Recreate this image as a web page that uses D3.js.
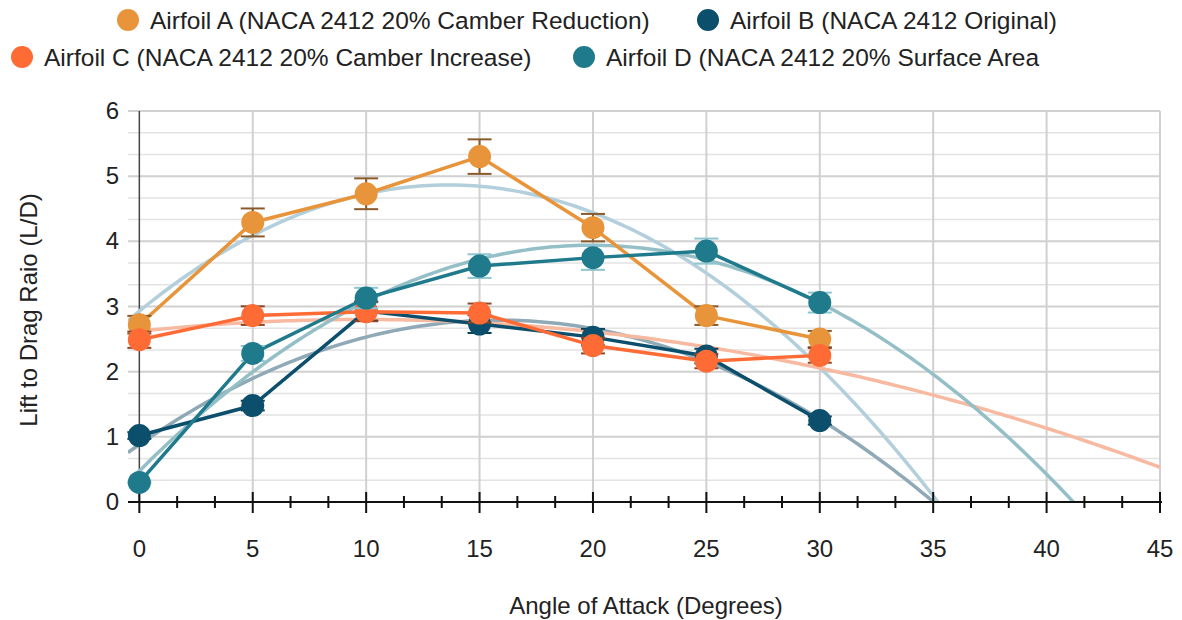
<!DOCTYPE html>
<html>
<head>
<meta charset="utf-8">
<script src="https://cdn.jsdelivr.net/npm/d3@7"></script>
<style>
  body { margin: 0; background: #fff; }
  text { font-family: "Liberation Sans", Arial, sans-serif; fill: #222; }
</style>
</head>
<body>
<svg id="chart" width="1182" height="620"></svg>
<script>
// data
const angles = [0, 5, 10, 15, 20, 25, 30];
const airfoilA = [2.72, 4.29, 4.73, 5.30, 4.21, 2.86, 2.50];
const airfoilB = [1.02, 1.48, 2.93, 2.73, 2.53, 2.24, 1.25];
const airfoilC = [2.49, 2.86, 2.92, 2.90, 2.40, 2.16, 2.25];
const airfoilD = [0.30, 2.28, 3.13, 3.62, 3.75, 3.85, 3.06];
const seriesNames = [
  "Airfoil A (NACA 2412 20% Camber Reduction)",
  "Airfoil B (NACA 2412 Original)",
  "Airfoil C (NACA 2412 20% Camber Increase)",
  "Airfoil D (NACA 2412 20% Surface Area"
];
const errorPct = 0.05; // error bars shown as 5% of value
const xTicks = [0, 5, 10, 15, 20, 25, 30, 35, 40, 45];
const yTicks = [0, 1, 2, 3, 4, 5, 6];

const colors = ["#e8943a", "#0b4f6c", "#ff6b35", "#1f7a8c"];
const trendColors = ["#b2cfdb", "#8fa9b6", "#f8b9a1", "#95bfc7"];
const errColors = ["#8b5a2b", "#0b3f58", "#8a4a2a", "#8ec5cf"];

const series = [airfoilA, airfoilB, airfoilC, airfoilD].map((vals, i) => ({
  name: seriesNames[i],
  color: colors[i],
  values: vals.map((v, j) => ({ x: angles[j], y: v }))
}));

const svg = d3.select("#chart");
const plotL = 128, plotR = 1160, plotT = 111, plotB = 502;

const x = d3.scaleLinear().domain([-0.5, 45]).range([plotL, plotR]);
const y = d3.scaleLinear().domain([0, 6]).range([plotB, plotT]);

// gridlines
const grid = svg.append("g");
const minorY = d3.range(0, 18).map((d) => d / 3).filter((d, i) => i % 3 !== 0);
grid.selectAll(".minor")
  .data(minorY)
  .enter().append("line")
  .attr("x1", plotL).attr("x2", plotR)
  .attr("y1", (d) => y(d)).attr("y2", (d) => y(d))
  .attr("stroke", "#e3e3e3").attr("stroke-width", 1.5);
grid.selectAll(".major")
  .data(yTicks.slice(1))
  .enter().append("line")
  .attr("x1", plotL).attr("x2", plotR)
  .attr("y1", (d) => y(d)).attr("y2", (d) => y(d))
  .attr("stroke", "#d0d0d0").attr("stroke-width", 2);
grid.selectAll(".vert")
  .data(xTicks.slice(1))
  .enter().append("line")
  .attr("x1", (d) => x(d)).attr("x2", (d) => x(d))
  .attr("y1", plotT).attr("y2", plotB)
  .attr("stroke", "#d0d0d0").attr("stroke-width", 2);

// y axis line at x = 0
svg.append("line")
  .attr("x1", x(0)).attr("x2", x(0))
  .attr("y1", plotT).attr("y2", plotB)
  .attr("stroke", "#444").attr("stroke-width", 1.5);

// y tick labels
svg.selectAll(".ylab")
  .data(yTicks)
  .enter().append("text")
  .attr("x", 119).attr("y", (d) => y(d) + 8)
  .attr("text-anchor", "end")
  .style("font-size", "24px")
  .text((d) => d);

// trendlines: least squares quadratic fit per series
function quadFit(pts) {
  const s = [0, 0, 0, 0, 0], t = [0, 0, 0];
  pts.forEach((p) => {
    for (let k = 0; k < 5; k++) s[k] += Math.pow(p.x, k);
    for (let k = 0; k < 3; k++) t[k] += p.y * Math.pow(p.x, k);
  });
  const A = [
    [s[0], s[1], s[2], t[0]],
    [s[1], s[2], s[3], t[1]],
    [s[2], s[3], s[4], t[2]]
  ];
  for (let i = 0; i < 3; i++) {
    for (let r = i + 1; r < 3; r++) {
      const f = A[r][i] / A[i][i];
      for (let c = i; c < 4; c++) A[r][c] -= f * A[i][c];
    }
  }
  const c = [0, 0, 0];
  for (let i = 2; i >= 0; i--) {
    let v = A[i][3];
    for (let k = i + 1; k < 3; k++) v -= A[i][k] * c[k];
    c[i] = v / A[i][i];
  }
  return (xv) => c[0] + c[1] * xv + c[2] * xv * xv;
}

svg.append("clipPath").attr("id", "plotclip")
  .append("rect")
  .attr("x", plotL).attr("y", plotT)
  .attr("width", plotR - plotL).attr("height", plotB - plotT);

const trendG = svg.append("g").attr("clip-path", "url(#plotclip)");
const xs = d3.range(-0.5, 45.01, 0.25);
series.forEach((s, i) => {
  const f = quadFit(s.values);
  trendG.append("path")
    .datum(xs.map((xv) => ({ x: xv, y: f(xv) })))
    .attr("fill", "none")
    .attr("stroke", trendColors[i])
    .attr("stroke-width", 3.5)
    .attr("d", d3.line().x((d) => x(d.x)).y((d) => y(Math.max(d.y, -0.05))));
});

// x axis
svg.append("line")
  .attr("x1", plotL).attr("x2", plotR + 2)
  .attr("y1", plotB).attr("y2", plotB)
  .attr("stroke", "#111").attr("stroke-width", 2);
const minorX = d3.range(0, 45, 5 / 3).filter((d, i) => i % 3 !== 0);
svg.selectAll(".xminor")
  .data(minorX)
  .enter().append("line")
  .attr("x1", (d) => x(d)).attr("x2", (d) => x(d))
  .attr("y1", plotB - 6).attr("y2", plotB + 6)
  .attr("stroke", "#111").attr("stroke-width", 2);
svg.selectAll(".xmajor")
  .data(xTicks)
  .enter().append("line")
  .attr("x1", (d) => x(d)).attr("x2", (d) => x(d))
  .attr("y1", plotB - 10).attr("y2", plotB + 11)
  .attr("stroke", "#111").attr("stroke-width", 2);
svg.selectAll(".xlab")
  .data(xTicks)
  .enter().append("text")
  .attr("x", (d) => x(d)).attr("y", 557)
  .attr("text-anchor", "middle")
  .style("font-size", "24px")
  .text((d) => d);

// series lines, error bars and markers
const line = d3.line().x((d) => x(d.x)).y((d) => y(d.y));
series.forEach((s, i) => {
  const g = svg.append("g");
  g.append("path")
    .datum(s.values)
    .attr("fill", "none")
    .attr("stroke", s.color)
    .attr("stroke-width", 3.5)
    .attr("d", line);
  const eb = g.selectAll(".eb")
    .data(s.values)
    .enter().append("g");
  eb.append("line")
    .attr("x1", (d) => x(d.x)).attr("x2", (d) => x(d.x))
    .attr("y1", (d) => y(d.y * (1 + errorPct)))
    .attr("y2", (d) => y(d.y * (1 - errorPct)))
    .attr("stroke", errColors[i]).attr("stroke-width", 2);
  [1 + errorPct, 1 - errorPct].forEach((k) => {
    eb.append("line")
      .attr("x1", (d) => x(d.x) - 12).attr("x2", (d) => x(d.x) + 12)
      .attr("y1", (d) => y(d.y * k)).attr("y2", (d) => y(d.y * k))
      .attr("stroke", errColors[i]).attr("stroke-width", 2);
  });
  g.selectAll(".pt")
    .data(s.values)
    .enter().append("circle")
    .attr("cx", (d) => x(d.x)).attr("cy", (d) => y(d.y))
    .attr("r", 11.5)
    .attr("fill", s.color);
});

// axis titles
svg.append("text")
  .attr("transform", "translate(37,310) rotate(-90)")
  .attr("text-anchor", "middle")
  .style("font-size", "24px")
  .text("Lift to Drag Raio (L/D)");
svg.append("text")
  .attr("x", 646).attr("y", 614)
  .attr("text-anchor", "middle")
  .style("font-size", "24px")
  .text("Angle of Attack (Degrees)");

// legend
const legendPos = [[128, 20], [708, 20], [22, 57], [584, 57]];
series.forEach((s, i) => {
  const lg = svg.append("g")
    .attr("transform", `translate(${legendPos[i][0]},${legendPos[i][1]})`);
  lg.append("circle").attr("r", 11).attr("fill", s.color);
  lg.append("text")
    .attr("x", 22).attr("y", 8.5)
    .style("font-size", "24.5px")
    .text(s.name);
});
</script>
</body>
</html>
